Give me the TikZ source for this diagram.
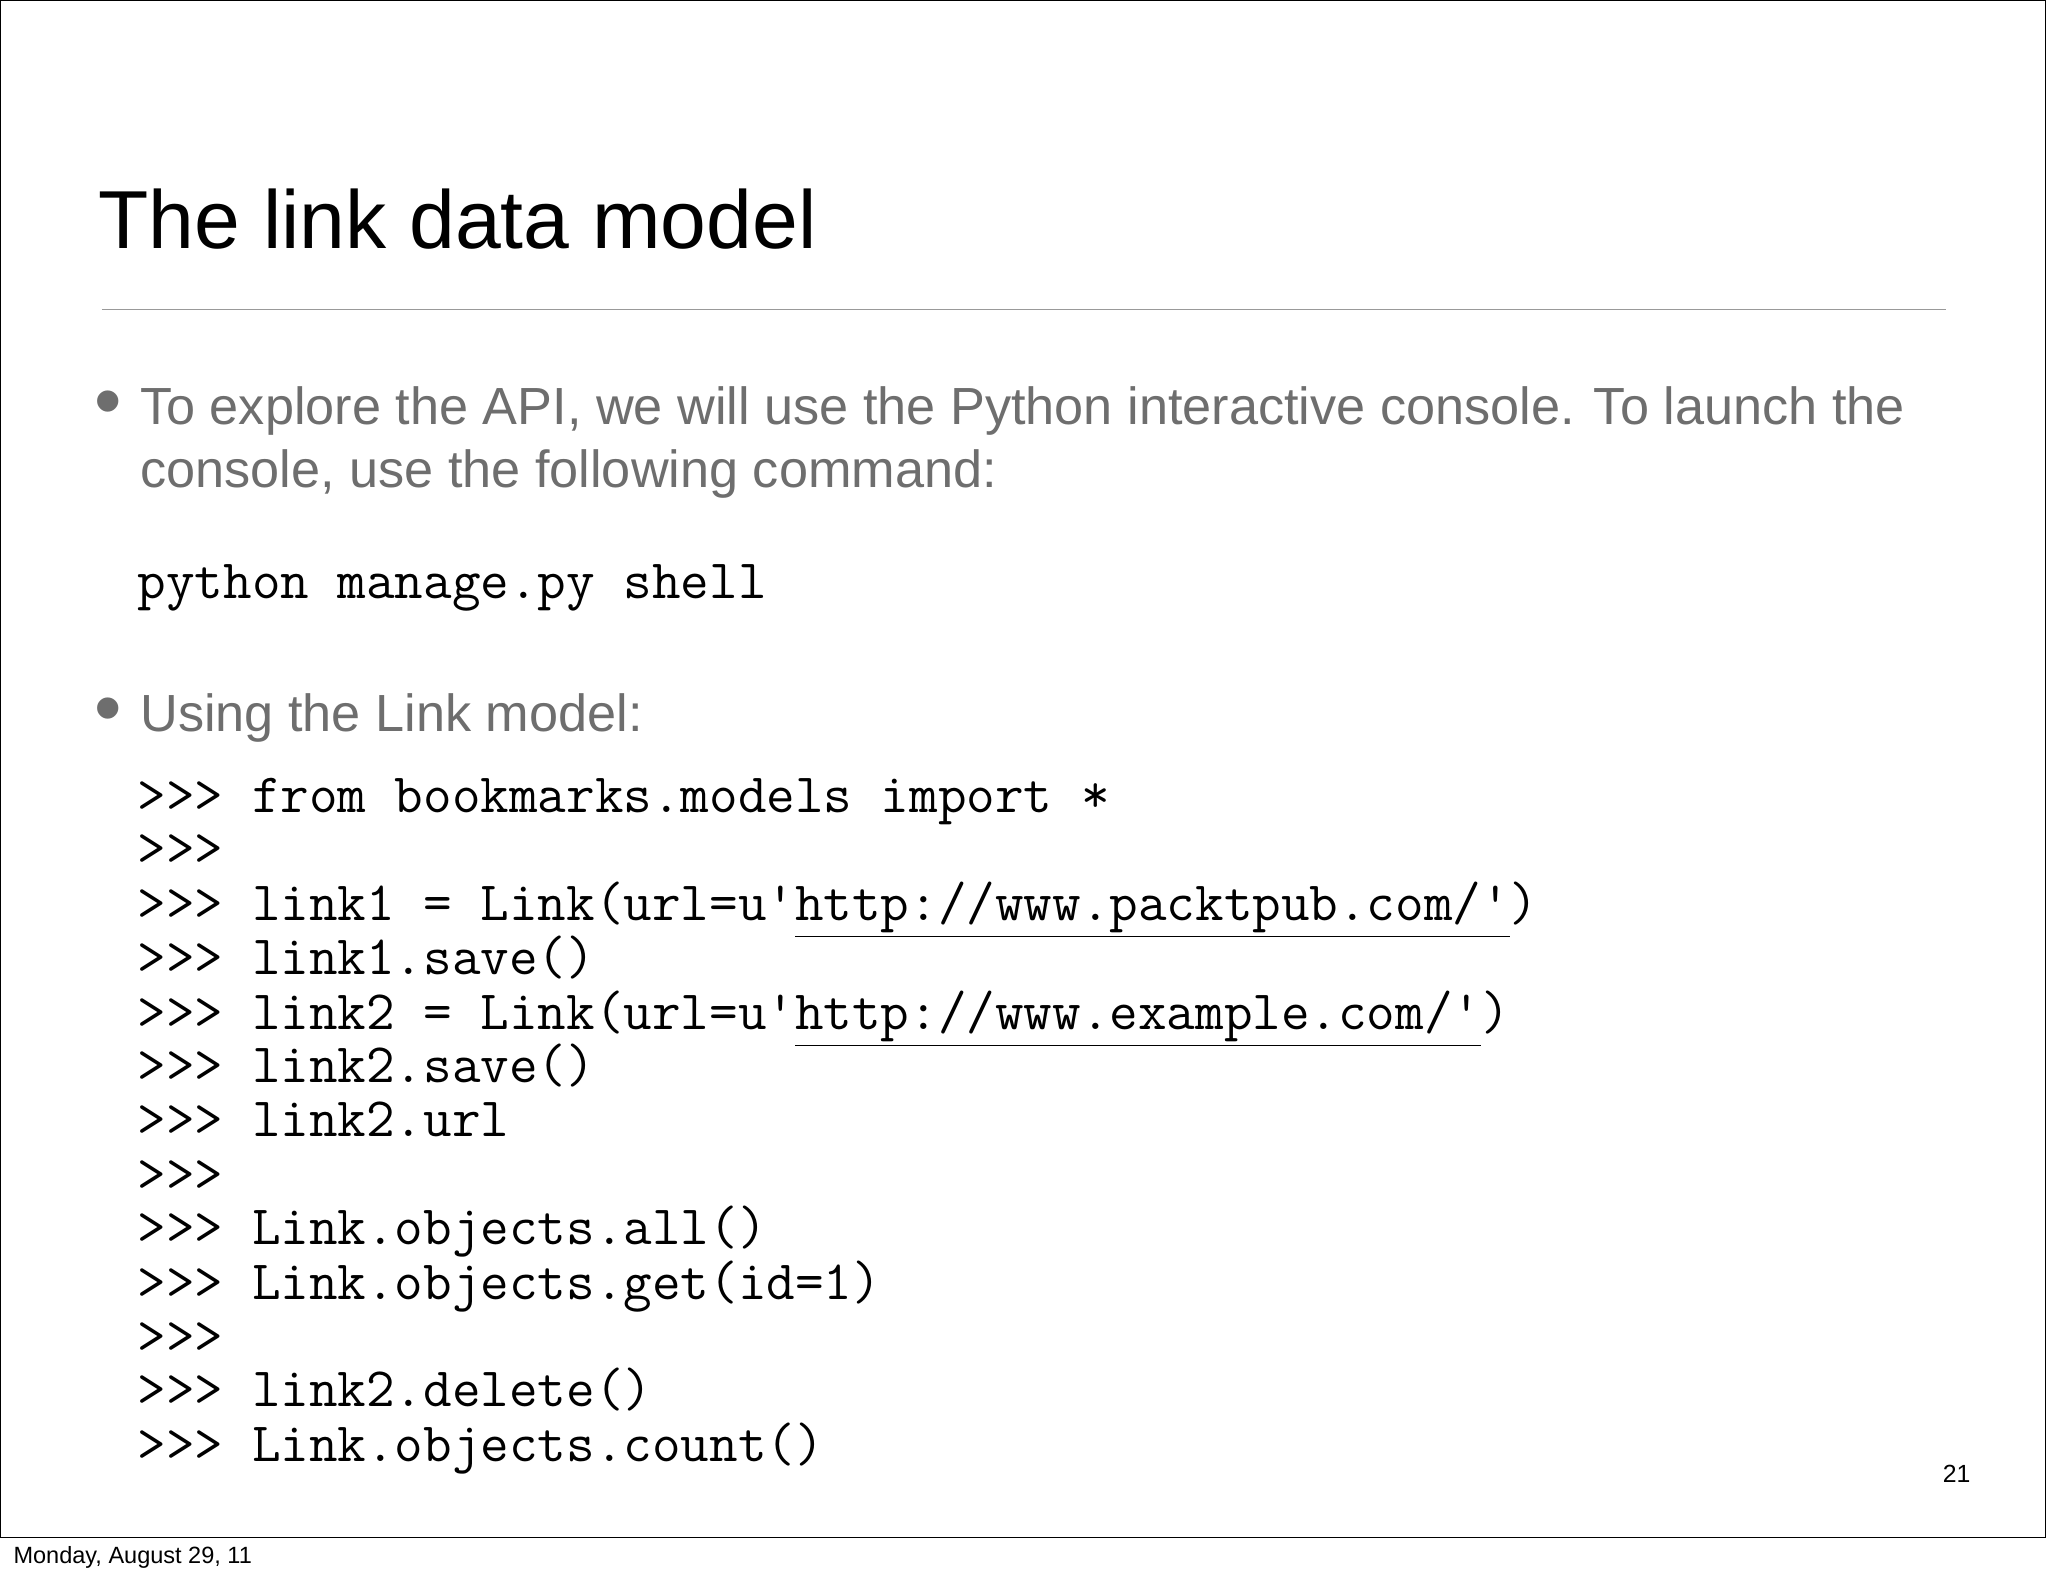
\documentclass[tikz,border=0pt]{standalone}
\usepackage{fontspec}
\setmainfont{Liberation Sans}
\usepackage{xcolor}
\definecolor{bul}{HTML}{6E6E6E}
\begin{document}
\begin{tikzpicture}[x=0.5pt,y=-0.5pt,
  code/.style={anchor=base west,inner sep=0pt,font=\fontsize{21.25}{22}\ttfamily},
  btxt/.style={anchor=base west,inner sep=0pt,text=bul,font=\fontsize{20}{24}\selectfont},
  dot/.style={anchor=base west,inner sep=0pt,text=bul,font=\fontsize{30}{24}\selectfont}]
\useasboundingbox (0,0) rectangle (1568,1207);
\fill[white] (0,0) rectangle (1568,1207);
\draw[line width=0.6pt] (0.5,0.5) rectangle (1566,1177);
\node[anchor=base west,inner sep=0pt,font=\fontsize{31.5}{36}\selectfont] (title) at (75,190) {The link data model};
\draw[gray!80,line width=0.7pt] (78,237) -- (1490,237);
\node[dot] (d1) at (72,327) {•};
\node[btxt] (b1a) at (107,325) {To explore the API, we will use the Python interactive console. To launch the};
\node[btxt] (b1b) at (107,373) {console, use the following command:};
\node[code] (c0) at (105,458) {python manage.py shell};
\node[dot] (d2) at (72,562) {•};
\node[btxt] (b2) at (107,560) {Using the Link model:};
\node[code] (l1) at (105,622) {>>> from bookmarks.models import *};
\node[code] (l2) at (105,663) {>>>};
\node[code] (l3) at (105,705) {>>> link1 = Link(url=u'\underline{http://www.packtpub.com/'})};
\node[code] (l4) at (105,746) {>>> link1.save()};
\node[code] (l5) at (105,788) {>>> link2 = Link(url=u'\underline{http://www.example.com/'})};
\node[code] (l6) at (105,829) {>>> link2.save()};
\node[code] (l7) at (105,870) {>>> link2.url};
\node[code] (l8) at (105,912) {>>>};
\node[code] (l9) at (105,953) {>>> Link.objects.all()};
\node[code] (l10) at (105,995) {>>> Link.objects.get(id=1)};
\node[code] (l11) at (105,1036) {>>>};
\node[code] (l12) at (105,1077) {>>> link2.delete()};
\node[code] (l13) at (105,1119) {>>> Link.objects.count()};
\node[anchor=base east,inner sep=0pt,font=\fontsize{9.5}{11}\selectfont] (num) at (1509,1135) {21};
\node[anchor=base west,inner sep=0pt,font=\fontsize{9}{11}\selectfont] (foot) at (10,1197) {Monday, August 29, 11};
\end{tikzpicture}
\end{document}
